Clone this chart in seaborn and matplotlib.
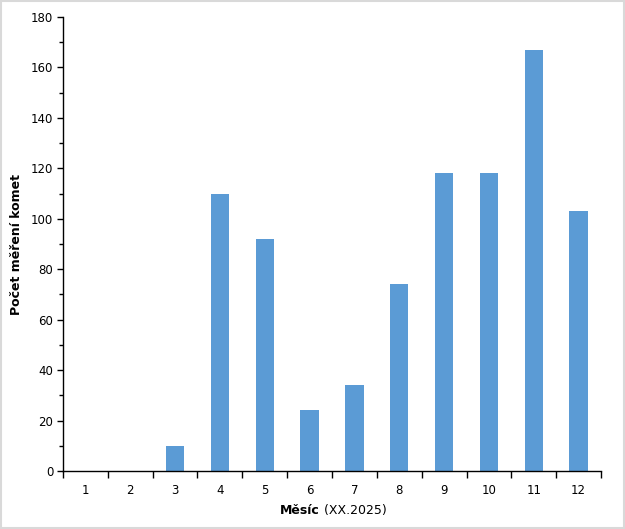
import matplotlib
matplotlib.use("Agg")
import matplotlib.pyplot as plt
import pandas as pd
import seaborn as sns
from matplotlib.ticker import MultipleLocator, FixedLocator

# data
months = ['1', '2', '3', '4', '5', '6', '7', '8', '9', '10', '11', '12']
counts = [0, 0, 10, 110, 92, 24, 34, 74, 118, 118, 167, 103]

df = pd.DataFrame({'month': months, 'count': counts})

sns.set_theme(style="white")
plt.rcParams['font.family'] = ['DejaVu Sans']

fig = plt.figure(figsize=(6.25, 5.29), dpi=100)
ax = fig.add_axes([0.1008, 0.1096, 0.8608, 0.8583])

sns.barplot(df, x='month', y='count', order=months, color='#5B9BD5',
            saturation=1, width=0.41, linewidth=0, edgecolor='none', ax=ax)

ax.set_ylim(0, 180)
ax.set_xlim(-0.5, 11.5)
ax.yaxis.set_major_locator(MultipleLocator(20))
ax.yaxis.set_minor_locator(MultipleLocator(10))
ax.xaxis.set_minor_locator(FixedLocator([i - 0.5 for i in range(13)]))

ax.tick_params(axis='y', which='major', direction='out', length=4, width=1,
               color='black', labelsize=8.5, labelcolor='black', pad=3, left=True)
ax.tick_params(axis='y', which='minor', direction='out', length=3, width=1,
               color='black', left=True)
ax.tick_params(axis='x', which='major', length=0, labelsize=8.5,
               labelcolor='black', pad=9)
ax.tick_params(axis='x', which='minor', direction='out', length=5, width=1,
               color='black', bottom=True)

for s in ['top', 'right']:
    ax.spines[s].set_visible(False)
for s in ['left', 'bottom']:
    ax.spines[s].set_color('black')
    ax.spines[s].set_linewidth(1)

ax.set_xlabel('')
ax.set_ylabel('Počet měření komet', fontsize=9, fontweight='bold',
              color='black', labelpad=6)

# x label: bold part + normal part
t1 = fig.text(0.512, 0.028, 'Měsíc', fontsize=9, fontweight='bold',
              color='black', ha='right', va='baseline')
ax.annotate(' (XX.2025)', xy=(1, 0), xycoords=t1, fontsize=9,
            color='black', ha='left', va='bottom')

# light grey frame around the figure
fig.patches.append(plt.Rectangle((0.001, 0.001), 0.997, 0.997, transform=fig.transFigure,
                                 fill=False, edgecolor='#D9D9D9', linewidth=1.5))

fig.savefig('out.png', dpi=100)
